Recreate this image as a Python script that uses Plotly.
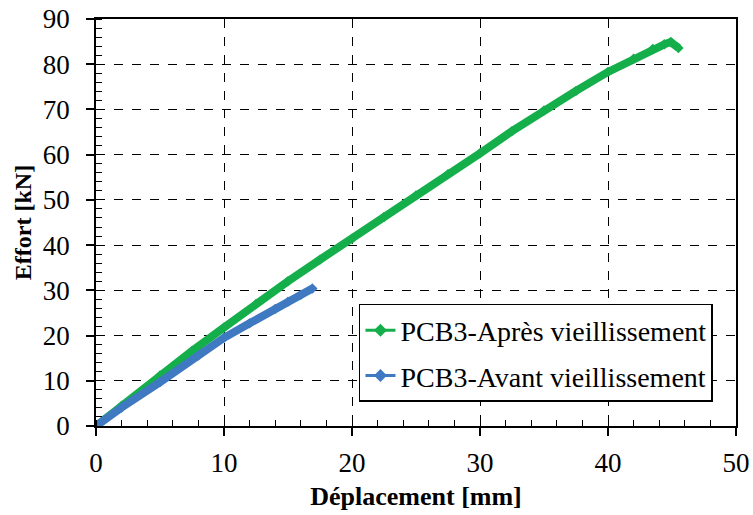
import plotly.graph_objects as go

# Data
apres_x = [0, 2, 5, 7.5, 10, 12.5, 15, 17.5, 20, 22.5, 25, 27.5, 30, 32.5, 35, 37.5, 40, 42, 43.5, 44.4, 44.9, 45.5]
apres_y = [0, 4.5, 11.2, 16.6, 21.8, 27.0, 32.0, 36.8, 41.4, 46.2, 51.0, 55.7, 60.3, 65.2, 69.8, 74.1, 78.3, 81.2, 83.4, 84.4, 84.9, 83.6]

avant_x = [0, 2, 5, 8, 10, 12, 14, 15, 16, 16.9]
avant_y = [0, 4.1, 9.7, 15.6, 19.5, 22.7, 25.9, 27.5, 29.0, 30.4]

x_ticks = [0, 10, 20, 30, 40, 50]
y_ticks = [0, 10, 20, 30, 40, 50, 60, 70, 80, 90]

names = ["PCB3-Après vieillissement", "PCB3-Avant vieillissement"]

GREEN = "#14AF4B"
BLUE = "#3E79C1"
FONT = "Liberation Serif, Times New Roman, serif"

fig = go.Figure()
# data curves (thick, like dense Excel markers)
fig.add_trace(go.Scatter(
    x=apres_x, y=apres_y, mode="lines+markers", showlegend=False,
    line=dict(color=GREEN, width=8),
    marker=dict(symbol="diamond", size=8, color=GREEN),
))
fig.add_trace(go.Scatter(
    x=avant_x, y=avant_y, mode="lines+markers", showlegend=False,
    line=dict(color=BLUE, width=8),
    marker=dict(symbol="diamond", size=8, color=BLUE),
))
# legend entries (thin line with diamond marker)
for nm, col, grp in [(names[0], GREEN, "a"), (names[1], BLUE, "b")]:
    fig.add_trace(go.Scatter(
        x=[None], y=[None], mode="lines+markers", name=nm, legendgroup=grp,
        line=dict(color=col, width=3),
        marker=dict(symbol="diamond", size=10, color=col),
    ))

axis_common = dict(
    showline=True, linecolor="black", linewidth=1.5, mirror=True,
    showgrid=True, gridcolor="black", gridwidth=1, griddash="dash",
    zeroline=False, automargin=False, ticklabeloverflow="allow",
    ticks="outside", ticklen=8, tickwidth=1.5, tickcolor="black",
    tickfont=dict(family=FONT, size=27, color="black"),
)

fig.update_xaxes(
    range=[0, 50], tickvals=x_ticks, ticklabelstandoff=4,
    minor=dict(ticks="inside", dtick=2, ticklen=6, tickwidth=1.2, tickcolor="black", showgrid=False),
    title=dict(text="<b>Déplacement [mm]</b>", font=dict(family=FONT, size=26, color="black"), standoff=10),
    **axis_common,
)
fig.update_yaxes(
    range=[0, 90], tickvals=y_ticks, ticklabelstandoff=11,
    minor=dict(ticks="inside", dtick=2, ticklen=6, tickwidth=1.2, tickcolor="black", showgrid=False),
    title=dict(text="<b>Effort [kN]</b>", font=dict(family=FONT, size=24, color="black"), standoff=4),
    **axis_common,
)

fig.update_layout(
    width=753, height=515,
    margin=dict(l=96, r=17, t=19, b=89, autoexpand=False),
    paper_bgcolor="white", plot_bgcolor="white",
    legend=dict(
        x=0.964, y=0.059, xanchor="right", yanchor="bottom",
        bgcolor="white", bordercolor="black", borderwidth=1.5,
        font=dict(family=FONT, size=28, color="black"),
        tracegroupgap=6, itemwidth=30,
    ),
    showlegend=True,
)

fig.write_html("out.html", config={"displayModeBar": False},
               post_script="document.body.style.margin='0';")
